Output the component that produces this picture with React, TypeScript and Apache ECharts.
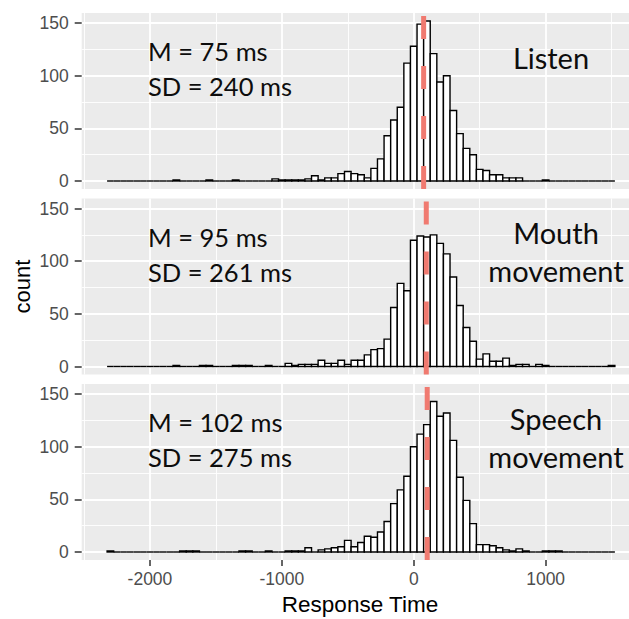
import React, { useEffect, useRef } from "react";
import * as echarts from "echarts";

// ---- data ----
const BIN_WIDTH = 50;
const FIRST_BIN_CENTER = -2300;
// counts per 50 ms bin, bins centred at -2300, -2250, ..., 1500
const LISTEN = [0,0,0,0,0,0,0,0,0,0, 1,0,0,0,0,1,0,0,0,1, 0,0,0,0,0,2,1,1,1,1, 2,5,1,3,3,7,9,7,6,3, 12,21,43,58,70,112,128,149,152,121, 94,100,67,45,31,25,11,10,6,6, 3,3,3,0,0,0,1,0,0,0, 0,0,0,0,0,0,0];
const MOUTH = [0,0,0,0,0,0,0,0,0,0, 1,0,0,0,1,1,0,0,0,1, 1,1,0,0,1,0,0,3,1,2, 2,2,6,3,3,6,2,6,6,11, 16,17,26,56,79,72,120,124,123,125, 117,107,85,58,37,24,7,12,5,5, 8,1,2,2,0,2,1,0,0,0, 0,0,0,0,0,0,1];
const SPEECH = [1,0,0,0,0,0,0,0,0,0, 0,1,1,1,0,0,0,0,0,0, 1,1,0,0,1,0,0,1,1,1, 4,0,2,3,4,5,11,5,9,15, 14,19,29,46,59,72,100,112,121,143, 129,132,106,71,49,27,7,7,6,4, 2,1,3,1,0,0,1,1,1,0, 0,0,0,0,0,0,0];
const PANELS = [LISTEN, MOUTH, SPEECH];
const MEANS = [75, 95, 102];
const SDS = [240, 261, 275];
const PANEL_NAMES = [["Listen"], ["Mouth", "movement"], ["Speech", "movement"]];
const X_TICKS = [-2000, -1000, 0, 1000];
const X_MINOR = [-2500, -1500, -500, 500, 1500];
const Y_TICKS = [0, 50, 100, 150];
const Y_MINOR = [25, 75, 125];
const X_MIN = -2517.5;
const X_MAX = 1632;
const Y_MIN = -7.6;
const Y_MAX = 159.6;

// ---- layout ----
const W = 629;
const H = 619;
const GRID_LEFT = 81.7;
const PANEL_TOPS = [13, 198.5, 384];
const PANEL_H = 176;
const AXIS_FONT = "'Liberation Sans', Arial, sans-serif";
const NOTE_FONT = "Lato, 'Open Sans', sans-serif";
const STAT_SIZE = 25.5;
const NAME_SIZE = 29;

function buildOption() {
  const grid = PANEL_TOPS.map((top) => ({
    left: GRID_LEFT,
    right: 0,
    top,
    height: PANEL_H,
    show: true,
    backgroundColor: "#EBEBEB",
    borderWidth: 0,
    containLabel: false,
    outerBoundsMode: "none",
  }));

  const xAxis: any[] = [];
  const yAxis: any[] = [];
  PANELS.forEach((_, i) => {
    const bottom = i === PANELS.length - 1;
    xAxis.push({
      type: "value",
      gridIndex: i,
      position: "bottom",
      min: X_MIN,
      max: X_MAX,
      axisLine: { show: false, onZero: false },
      axisTick: {
        show: bottom,
        customValues: X_TICKS,
        length: 6,
        lineStyle: { color: "#333333", width: 1.5 },
      },
      axisLabel: {
        show: bottom,
        customValues: X_TICKS,
        color: "#4D4D4D",
        fontSize: 17.5,
        fontFamily: AXIS_FONT,
        margin: 10,
        formatter: (v: number) => String(v),
      },
      splitLine: { show: true, lineStyle: { color: "#FFFFFF", width: 1.8 } },
    });
    xAxis.push({
      type: "value",
      gridIndex: i,
      position: "bottom",
      min: X_MIN,
      max: X_MAX,
      axisLine: { show: false, onZero: false },
      axisTick: { show: false, customValues: X_MINOR },
      axisLabel: { show: false, customValues: X_MINOR },
      splitLine: { show: true, lineStyle: { color: "#FFFFFF", width: 0.9 } },
    });
    yAxis.push({
      type: "value",
      gridIndex: i,
      position: "left",
      min: Y_MIN,
      max: Y_MAX,
      axisLine: { show: false, onZero: false },
      axisTick: {
        show: true,
        customValues: Y_TICKS,
        length: 7,
        lineStyle: { color: "#333333", width: 1.5 },
      },
      axisLabel: {
        show: true,
        customValues: Y_TICKS,
        color: "#4D4D4D",
        fontSize: 17.5,
        fontFamily: AXIS_FONT,
        margin: 13,
        formatter: (v: number) => String(v),
      },
      splitLine: { show: true, lineStyle: { color: "#FFFFFF", width: 1.8 } },
    });
    yAxis.push({
      type: "value",
      gridIndex: i,
      position: "left",
      min: Y_MIN,
      max: Y_MAX,
      axisLine: { show: false, onZero: false },
      axisTick: { show: false, customValues: Y_MINOR },
      axisLabel: { show: false, customValues: Y_MINOR },
      splitLine: { show: true, lineStyle: { color: "#FFFFFF", width: 0.9 } },
    });
  });

  const renderItem = (_params: any, api: any) => {
    const c = api.value(0);
    const n = api.value(1);
    const p0 = api.coord([c - BIN_WIDTH / 2, 0]);
    const p1 = api.coord([c + BIN_WIDTH / 2, n]);
    if (n <= 0) {
      return {
        type: "line",
        shape: { x1: p0[0], y1: p0[1], x2: p1[0], y2: p0[1] },
        style: { stroke: "#000000", lineWidth: 1.4 },
      };
    }
    return {
      type: "rect",
      shape: { x: p0[0], y: p1[1], width: p1[0] - p0[0], height: p0[1] - p1[1] },
      style: { fill: "#FFFFFF", stroke: "#000000", lineWidth: 1.4 },
    };
  };

  const series: any[] = [];
  PANELS.forEach((counts, i) => {
    series.push({
      type: "custom",
      xAxisIndex: i * 2,
      yAxisIndex: i * 2,
      encode: { x: 0, y: 1 },
      renderItem,
      z: 2,
      silent: true,
      data: counts.map((n, k) => [FIRST_BIN_CENTER + k * BIN_WIDTH, n]),
    });
    series.push({
      type: "line",
      xAxisIndex: i * 2,
      yAxisIndex: i * 2,
      z: 5,
      silent: true,
      symbol: "none",
      lineStyle: { color: "#F07A70", width: 5, type: [23, 27], cap: "butt" },
      data: [
        [MEANS[i], Y_MIN],
        [MEANS[i], Y_MAX],
      ],
    });
  });

  const noteStyle = (text: string, align: string, size: number) => ({
    text,
    fill: "#0D0D0D",
    font: `${size}px ${NOTE_FONT}`,
    align,
    textAlign: align,
    verticalAlign: "middle",
    textVerticalAlign: "middle",
  });

  const graphic: any[] = [];
  PANELS.forEach((_, i) => {
    const top = PANEL_TOPS[i];
    graphic.push({ type: "text", z: 50, x: 148, y: top + 38, style: noteStyle(`M = ${MEANS[i]} ms`, "left", STAT_SIZE) });
    graphic.push({ type: "text", z: 50, x: 148, y: top + 73, style: noteStyle(`SD = ${SDS[i]} ms`, "left", STAT_SIZE) });
    const names = PANEL_NAMES[i];
    if (names.length === 1) {
      graphic.push({ type: "text", z: 50, x: 551, y: top + 44, style: noteStyle(names[0], "center", NAME_SIZE) });
    } else {
      graphic.push({ type: "text", z: 50, x: 556, y: top + 34, style: noteStyle(names[0], "center", NAME_SIZE) });
      graphic.push({ type: "text", z: 50, x: 556, y: top + 72, style: noteStyle(names[1], "center", NAME_SIZE) });
    }
  });
  graphic.push({
    type: "text",
    z: 50,
    x: 22,
    y: (PANEL_TOPS[0] + PANEL_TOPS[2] + PANEL_H) / 2,
    rotation: Math.PI / 2,
    style: {
      text: "count",
      fill: "#000000",
      font: `22px ${AXIS_FONT}`,
      align: "center",
      textAlign: "center",
      verticalAlign: "middle",
      textVerticalAlign: "middle",
    },
  });
  graphic.push({
    type: "text",
    z: 50,
    x: 360,
    y: 604,
    style: {
      text: "Response Time",
      fill: "#000000",
      font: `22.5px ${AXIS_FONT}`,
      align: "center",
      textAlign: "center",
      verticalAlign: "middle",
      textVerticalAlign: "middle",
    },
  });

  return {
    animation: false,
    backgroundColor: "#FFFFFF",
    grid,
    xAxis,
    yAxis,
    series,
    graphic,
  };
}

export default function App() {
  const ref = useRef<HTMLDivElement>(null);
  useEffect(() => {
    if (!ref.current) return;
    const chart = echarts.init(ref.current, null, { renderer: "svg" });
    chart.setOption(buildOption() as any);
    return () => chart.dispose();
  }, []);
  return (
    <div
      ref={ref}
      style={{ position: "fixed", left: 0, top: 0, width: W, height: H, background: "#FFFFFF" }}
    />
  );
}
